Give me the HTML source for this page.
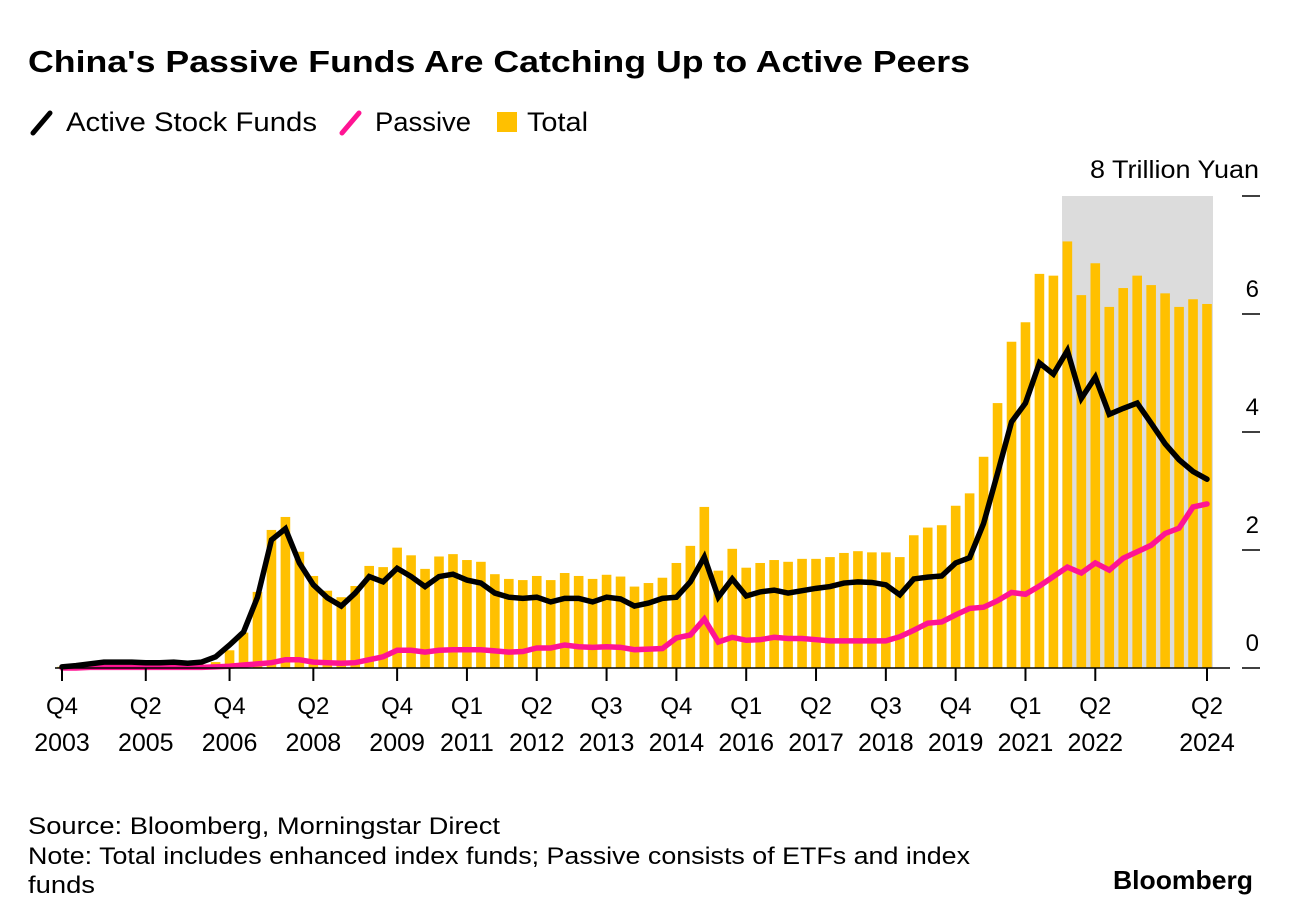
<!DOCTYPE html>
<html><head><meta charset="utf-8"><style>
body{margin:0;background:#fff;font-family:"Liberation Sans",sans-serif;}
#wrap{position:relative;width:1293px;height:924px;overflow:hidden}
</style></head><body><div id="wrap">
<svg id="chart" width="1293" height="924" font-family="Liberation Sans, sans-serif">
<text x="28" y="72" font-size="31" font-weight="bold" fill="#000" textLength="942" lengthAdjust="spacingAndGlyphs">China's Passive Funds Are Catching Up to Active Peers</text>
<g>
<g><line x1="33" y1="133" x2="50" y2="113" stroke="#000" stroke-width="5" stroke-linecap="round"/><text x="66" y="131" font-size="27" textLength="251" lengthAdjust="spacingAndGlyphs">Active Stock Funds</text></g>
<g><line x1="342" y1="133" x2="359" y2="113" stroke="#ff1493" stroke-width="5" stroke-linecap="round"/><text x="375" y="131" font-size="27" textLength="96" lengthAdjust="spacingAndGlyphs">Passive</text></g>
<g><rect x="497" y="112" width="20" height="20" fill="#ffc000"/><text x="527" y="131" font-size="27" textLength="61" lengthAdjust="spacingAndGlyphs">Total</text></g>
</g>
<rect x="1062" y="196" width="151" height="472" fill="#dcdcdc"/>
<g id="bars"></g>
<g id="lines"></g>
<g id="axes"></g>
<text x="1090" y="178" font-size="25" textLength="169" lengthAdjust="spacingAndGlyphs">8 Trillion Yuan</text>
<text x="28" y="834" font-size="24" textLength="472" lengthAdjust="spacingAndGlyphs">Source: Bloomberg, Morningstar Direct</text>
<text x="28" y="864" font-size="24" textLength="942" lengthAdjust="spacingAndGlyphs">Note: Total includes enhanced index funds; Passive consists of ETFs and index</text>
<text x="28" y="893" font-size="24" textLength="67" lengthAdjust="spacingAndGlyphs">funds</text>
<text x="1113" y="889" font-size="26" font-weight="bold" textLength="140" lengthAdjust="spacingAndGlyphs">Bloomberg</text>
</svg>
<script>
const total=[0.02,0.03,0.04,0.05,0.05,0.05,0.05,0.05,0.05,0.05,0.06,0.1,0.3,0.6,1.29,2.34,2.56,1.97,1.56,1.31,1.2,1.39,1.73,1.71,2.04,1.91,1.68,1.89,1.93,1.83,1.8,1.59,1.51,1.49,1.56,1.49,1.61,1.56,1.51,1.58,1.55,1.38,1.44,1.53,1.78,2.07,2.73,1.65,2.02,1.7,1.78,1.83,1.8,1.85,1.85,1.88,1.95,1.98,1.96,1.96,1.88,2.25,2.38,2.42,2.75,2.96,3.58,4.49,5.53,5.86,6.68,6.65,7.23,6.32,6.86,6.12,6.44,6.65,6.49,6.35,6.12,6.25,6.17];
const active=[0.02,0.04,0.07,0.1,0.1,0.1,0.09,0.09,0.1,0.08,0.1,0.19,0.39,0.61,1.2,2.17,2.36,1.78,1.41,1.19,1.05,1.27,1.55,1.46,1.69,1.55,1.38,1.55,1.59,1.49,1.44,1.27,1.2,1.18,1.2,1.12,1.18,1.18,1.12,1.2,1.17,1.05,1.1,1.18,1.2,1.46,1.88,1.2,1.51,1.22,1.29,1.32,1.27,1.31,1.35,1.38,1.44,1.46,1.45,1.41,1.24,1.51,1.54,1.56,1.78,1.87,2.45,3.3,4.17,4.49,5.17,4.98,5.38,4.57,4.93,4.3,4.4,4.49,4.15,3.8,3.53,3.33,3.2];
const passive=[0,0,0.01,0.01,0.01,0.01,0.01,0.01,0.01,0.01,0.01,0.02,0.03,0.05,0.07,0.09,0.14,0.14,0.1,0.09,0.08,0.09,0.14,0.19,0.3,0.3,0.27,0.3,0.31,0.31,0.31,0.29,0.27,0.28,0.34,0.34,0.39,0.36,0.35,0.36,0.35,0.31,0.32,0.33,0.51,0.56,0.83,0.44,0.52,0.47,0.48,0.52,0.5,0.5,0.48,0.46,0.46,0.46,0.46,0.46,0.53,0.64,0.76,0.78,0.9,1.01,1.03,1.14,1.28,1.25,1.39,1.55,1.71,1.61,1.78,1.66,1.86,1.97,2.08,2.28,2.37,2.73,2.78];
const xTickIdx=[0,6,12,18,24,29,34,39,44,49,54,59,64,69,74,82];
const xTickQ=["Q4","Q2","Q4","Q2","Q4","Q1","Q2","Q3","Q4","Q1","Q2","Q3","Q4","Q1","Q2","Q2"];
const xTickYear=["2003","2005","2006","2008","2009","2011","2012","2013","2014","2016","2017","2018","2019","2021","2022","2024"];
const yTicks=[0,2,4,6];
const NS="http://www.w3.org/2000/svg";
const x=i=>62+i*(1207-62)/82;
const y=v=>668-v*59;
function mk(t,a,p){const e=document.createElementNS(NS,t);for(const k in a)e.setAttribute(k,a[k]);p.appendChild(e);return e;}
const bars=document.getElementById('bars');
total.forEach((v,i)=>{const r=mk('rect',{x:x(i)-4.8,y:y(v),width:9.6,height:668-y(v),fill:'#ffc000'},bars);

});
const lines=document.getElementById('lines');
function line(arr,col,name){const p=mk('polyline',{points:arr.map((v,i)=>x(i)+','+y(v)).join(' '),fill:'none',stroke:col,'stroke-width':5.5,'stroke-linejoin':'miter','stroke-linecap':'round'},lines);

}
line(passive,'#ff1493','passive-line');
line(active,'#000','active-line');
const ax=document.getElementById('axes');
const base=mk('line',{x1:55,y1:668,x2:1230,y2:668,stroke:'#000','stroke-width':1.5},ax);


xTickIdx.forEach((k,j)=>{mk('line',{x1:x(k),y1:668,x2:x(k),y2:681,stroke:'#000','stroke-width':2},ax);
const t=mk('text',{x:x(k),y:714,'font-size':24,'text-anchor':'middle'},ax);t.textContent=xTickQ[j];


const t2=mk('text',{x:x(k),y:751,'font-size':25,'text-anchor':'middle'},ax);t2.textContent=xTickYear[j];

});
[0,2,4,6,8].forEach(v=>{mk('line',{x1:1242,y1:y(v),x2:1260,y2:y(v),stroke:'#000','stroke-width':1.5},ax);});
yTicks.forEach(v=>{const t=mk('text',{x:1259,y:y(v)-17,'font-size':24,'text-anchor':'end'},ax);t.textContent=v;

});
</script>
</div></body></html>
